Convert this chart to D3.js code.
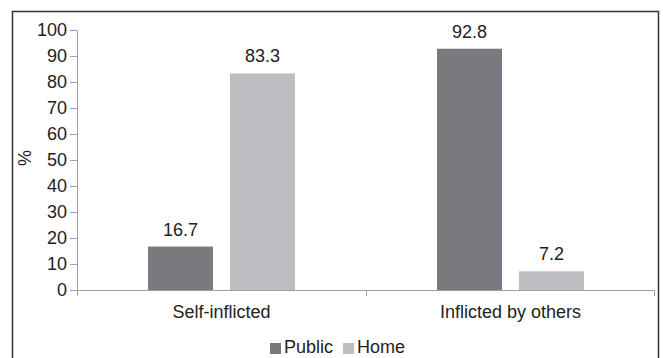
<!DOCTYPE html>
<html>
<head>
<meta charset="utf-8">
<script src="https://cdn.jsdelivr.net/npm/d3@7"></script>
<style>
  body { margin: 0; background: #fff; }
  svg { display: block; font-family: "Liberation Sans", Arial, sans-serif; }
  .axis path, .axis line { stroke: #a0a0a0; }
  .axis text { fill: #222; font-size: 18px; }
</style>
</head>
<body>
<svg></svg>
<script>
let width = 663;
let height = 358;

let categories = ["Self-inflicted", "Inflicted by others"];
let seriesNames = ["Public", "Home"];
let publicValues = [16.7, 92.8];
let homeValues = [83.3, 7.2];
let yTicks = [0, 10, 20, 30, 40, 50, 60, 70, 80, 90, 100];
let colors = ["#7a7a7e", "#bdbdc1"];

let plotLeft = 77, plotRight = 655, plotTop = 30, plotBottom = 290;

let rows = [];
for (let i = 0; i < categories.length; i++) {
    rows.push({cat: categories[i], Public: publicValues[i], Home: homeValues[i]});
}

let svg = d3.select("svg")
    .attr("width", width)
    .attr("height", height);

// рамка вокруг всего графика
svg.append("rect")
    .attr("x", 12.5).attr("y", 11.5)
    .attr("width", 646).attr("height", 360)
    .attr("fill", "none")
    .attr("stroke", "#333")
    .attr("stroke-width", 1.5);

let scaleX = d3.scaleBand()
    .domain(categories)
    .range([plotLeft, plotRight]);

let groupW = 147;
let offset = (scaleX.bandwidth() - groupW) / 2;
let scaleX1 = d3.scaleBand()
    .domain(seriesNames)
    .range([offset, offset + groupW])
    .paddingInner(17 / 82);

let scaleY = d3.scaleLinear()
    .domain([0, 100])
    .range([plotBottom, plotTop]);

// ось y
svg.append("g")
    .attr("class", "axis")
    .attr("transform", `translate(${plotLeft}, 0)`)
    .call(d3.axisLeft(scaleY).tickValues(yTicks).tickSize(7).tickPadding(3).tickSizeOuter(0));

// ось x: деления на границах категорий
let axisX = svg.append("g")
    .attr("class", "axis")
    .attr("transform", `translate(0, ${plotBottom})`);
axisX.append("line")
    .attr("x1", plotLeft).attr("x2", plotRight - 1)
    .attr("y1", 0.5).attr("y2", 0.5);
let bounds = [plotLeft, scaleX(categories[1]), plotRight - 1];
axisX.selectAll(".bt")
    .data(bounds)
    .enter()
    .append("line")
    .attr("x1", d => d + 0.5).attr("x2", d => d + 0.5)
    .attr("y1", 0).attr("y2", 6);
axisX.selectAll(".cl")
    .data(categories)
    .enter()
    .append("text")
    .attr("x", d => scaleX(d) + scaleX.bandwidth() / 2)
    .attr("y", 28)
    .attr("text-anchor", "middle")
    .text(d => d);

// подпись оси y
svg.append("text")
    .attr("transform", "translate(31, 158) rotate(-90)")
    .attr("text-anchor", "middle")
    .attr("font-size", 18)
    .attr("fill", "#222")
    .text("%");

// столбцы
seriesNames.forEach(function (s, k) {
    svg.append("g")
        .selectAll("rect")
        .data(rows)
        .enter()
        .append("rect")
        .attr("x", d => scaleX(d.cat) + scaleX1(s))
        .attr("width", scaleX1.bandwidth())
        .attr("y", d => scaleY(d[s]))
        .attr("height", d => plotBottom - scaleY(d[s]))
        .attr("fill", colors[k]);

    svg.append("g")
        .selectAll("text")
        .data(rows)
        .enter()
        .append("text")
        .attr("x", d => scaleX(d.cat) + scaleX1(s) + scaleX1.bandwidth() / 2)
        .attr("y", d => scaleY(d[s]) - 11)
        .attr("text-anchor", "middle")
        .attr("font-size", 18)
        .attr("fill", "#222")
        .text(d => d[s]);
});

// легенда
let legendX = [270, 343];
let legend = svg.append("g");
seriesNames.forEach(function (s, k) {
    legend.append("rect")
        .attr("x", legendX[k]).attr("y", 343)
        .attr("width", 11).attr("height", 11)
        .attr("fill", colors[k]);
    legend.append("text")
        .attr("x", legendX[k] + 14).attr("y", 353)
        .attr("font-size", 18)
        .attr("fill", "#222")
        .text(s);
});
</script>
</body>
</html>
